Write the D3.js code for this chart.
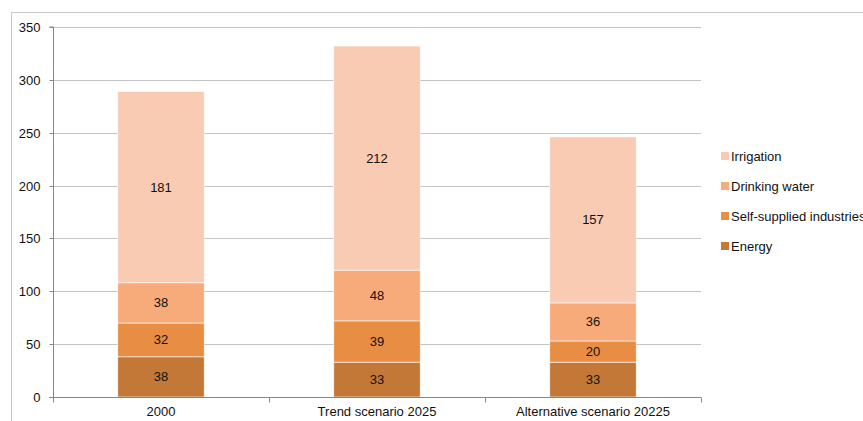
<!DOCTYPE html>
<html><head><meta charset="utf-8">
<script src="https://cdn.jsdelivr.net/npm/d3@7"></script>
<style>body{margin:0;background:#fff}svg{display:block;font-family:"Liberation Sans",Arial,sans-serif}</style>
</head><body>
<svg id="c" width="863" height="421"></svg>
<script>
const categories = ["2000", "Trend scenario 2025", "Alternative scenario 20225"];
const seriesNames = ["Energy", "Self-supplied industries", "Drinking water", "Irrigation"];
const energy = [38, 33, 33];
const selfSupplied = [32, 39, 20];
const drinking = [38, 48, 36];
const irrigation = [181, 212, 157];
const yTicks = [0, 50, 100, 150, 200, 250, 300, 350];
const colors = ["#C47838", "#E88D44", "#F7AB7B", "#F9CBB3"];

const svg = d3.select("#c");
const x0 = 53, x1 = 701, y0 = 397, y1 = 27;
const FS = 13;

svg.append("rect").attr("x", 11.5).attr("y", 12.5).attr("width", 900).attr("height", 500)
  .attr("fill", "none").attr("stroke", "#c8c8c8").attr("stroke-width", 1);

const x = d3.scaleBand().domain(categories).range([x0, x1]).paddingInner(0.6).paddingOuter(0.3);
const xb = d3.scaleBand().domain(categories).range([x0, x1]);
const y = d3.scaleLinear().domain([0, 350]).range([y0, y1]);

svg.append("g").selectAll("line").data(yTicks.filter(d => d > 0)).join("line")
  .attr("x1", x0).attr("x2", x1).attr("y1", d => Math.round(y(d)) + 0.5).attr("y2", d => Math.round(y(d)) + 0.5)
  .attr("stroke", "#c4c4c4").attr("stroke-width", 1);

const table = categories.map((c, i) => ({cat: c, Energy: energy[i], "Self-supplied industries": selfSupplied[i], "Drinking water": drinking[i], Irrigation: irrigation[i]}));
const stack = d3.stack().keys(seriesNames)(table);

const g = svg.append("g");
stack.forEach((s, si) => {
  g.selectAll(null).data(s).join("rect")
    .attr("x", d => x(d.data.cat)).attr("width", x.bandwidth())
    .attr("y", d => y(d[1])).attr("height", d => y(d[0]) - y(d[1]))
    .attr("fill", colors[si]).attr("stroke", "#fff").attr("stroke-width", 0.6);
  g.selectAll(null).data(s).join("text")
    .attr("x", d => x(d.data.cat) + x.bandwidth() / 2)
    .attr("y", d => (y(d[0]) + y(d[1])) / 2 + 4.5)
    .attr("text-anchor", "middle").attr("font-size", FS).attr("fill", "#111")
    .text(d => d[1] - d[0]);
});

const ya = svg.append("g").attr("transform", `translate(${x0 + 0.5},0)`)
  .call(d3.axisLeft(y).tickValues(yTicks).tickSize(4).tickPadding(9));
ya.select(".domain").attr("stroke", "#868686").attr("d", `M-4,${y(0)+0.5}H0V${y(350)}H-4`);
ya.selectAll(".tick line").attr("stroke", "#868686");
ya.selectAll(".tick text").attr("font-size", FS).attr("fill", "#111").attr("font-family", "Liberation Sans, Arial, sans-serif");
ya.selectAll(".tick").attr("transform", d => `translate(0,${Math.round(y(d)) + 0.5})`);

const xa = svg.append("g").attr("transform", `translate(0,${y0 + 0.5})`);
xa.append("line").attr("x1", x0).attr("x2", x1).attr("stroke", "#868686");
const bounds = [x0].concat(categories.map(c => xb(c) + xb.bandwidth()));
xa.selectAll("line.t").data(bounds).join("line").attr("class", "t")
  .attr("x1", d => Math.round(d) + 0.5).attr("x2", d => Math.round(d) + 0.5).attr("y1", 0).attr("y2", 5)
  .attr("stroke", "#868686");
xa.selectAll("text").data(categories).join("text")
  .attr("x", d => xb(d) + xb.bandwidth() / 2).attr("y", 18)
  .attr("text-anchor", "middle").attr("font-size", FS).attr("fill", "#111").text(d => d);

const legendOrder = seriesNames.slice().reverse();
const lg = svg.append("g");
legendOrder.forEach((n, i) => {
  const ly = 156 + i * 30;
  lg.append("rect").attr("x", 721).attr("y", ly - 4).attr("width", 8).attr("height", 8).attr("fill", colors[3 - i]);
  lg.append("text").attr("x", 731).attr("y", ly + 4.5).attr("font-size", FS).attr("fill", "#111").text(n);
});
</script>
</body></html>
